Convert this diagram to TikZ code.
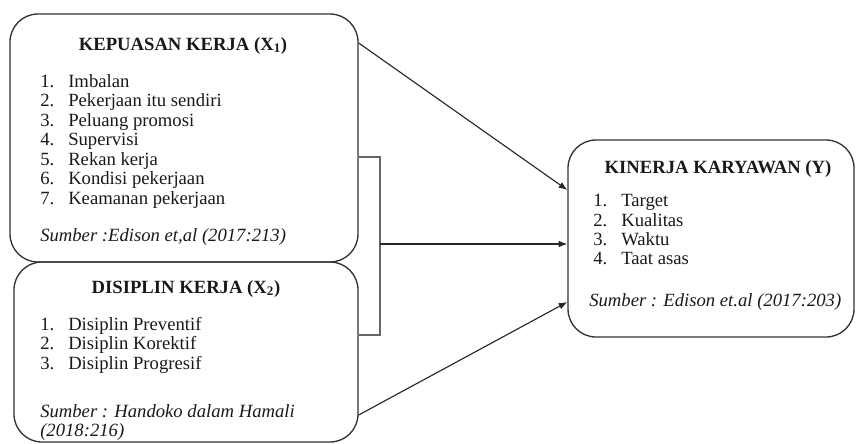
\documentclass[tikz,border=0pt]{standalone}
\usepackage{fontspec}
\setmainfont{Liberation Serif}
\usepackage{tikz}
\usetikzlibrary{arrows.meta}
\newcommand\fsz{\fontsize{14}{14.6}\selectfont}
\newcommand\nr[1]{\makebox[21pt][l]{#1.}}
\tikzset{%
  >={Latex[length=6.5pt,width=5pt]},
  varbox/.style={draw=black!80,line width=1pt,rounded corners=21pt,inner sep=0pt},%
  title/.style={anchor=base,inner sep=0pt,font=\fsz\bfseries,text=black!90},%
  items/.style={anchor=north west,align=left,inner sep=0pt,font=\fsz,text=black!90},%
  source/.style={anchor=base west,align=left,inner sep=0pt,font=\fsz\itshape,text=black!90},%
  link/.style={->,line width=0.85pt,black!85}%
}

\begin{document}
\begin{tikzpicture}[x=0.75pt,y=-0.75pt]
\useasboundingbox (0,0) rectangle (856,443);

% variable boxes
\node[varbox,minimum width=261pt,minimum height=186pt] (kep) at (184,138) {};
\node[varbox,minimum width=258pt,minimum height=135pt] (dis) at (186,352) {};
\node[varbox,minimum width=214.5pt,minimum height=147.75pt] (kin) at (711,238.5) {};

\node[title] (kept) at (183,50) {KEPUASAN KERJA (X\textsubscript{1})};
\node[items] (kepl) at (40,74) {\nr{1}Imbalan\\ \nr{2}Pekerjaan itu sendiri\\ \nr{3}Peluang promosi\\
  \nr{4}Supervisi\\ \nr{5}Rekan kerja\\ \nr{6}Kondisi pekerjaan\\ \nr{7}Keamanan pekerjaan};
\node[source] (keps) at (40,241) {Sumber :Edison et,al (2017:213)};

\node[title] (dist) at (186,293) {DISIPLIN KERJA (X\textsubscript{2})};
\node[items] (disl) at (40,317) {\nr{1}Disiplin Preventif\\ \nr{2}Disiplin Korektif\\ \nr{3}Disiplin Progresif};
\node[source,anchor=north west] (diss) at (40,404) {Sumber : Handoko dalam Hamali\\ (2018:216)};

\node[title] (kint) at (718,173) {KINERJA KARYAWAN (Y)};
\node[items] (kinl) at (593,194) {\nr{1}Target\\ \nr{2}Kualitas\\ \nr{3}Waktu\\ \nr{4}Taat asas};
\node[source] (kins) at (589,306) {Sumber : Edison et.al (2017:203)};

% connectors
\coordinate (brk) at (380,244);
\draw[link] (kep.east |- 0,43) -- (kin.west |- 0,190);
\draw[black!60,line width=1pt] (kep.east |- 0,157) -| (brk |- 0,335) -- (dis.east |- 0,335);
\draw[link] (brk) -- (kin.west |- brk);
\draw[link] (dis.east |- 0,415) -- (kin.west |- 0,302);
\end{tikzpicture}
\end{document}
